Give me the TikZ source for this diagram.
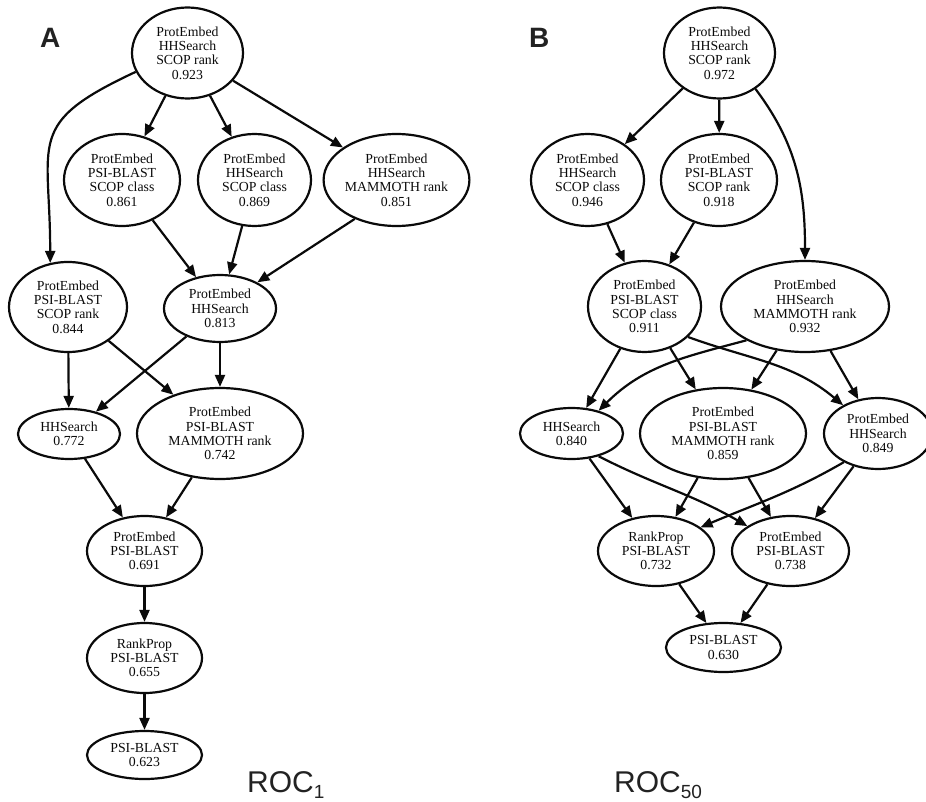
\documentclass[tikz,border=0pt]{standalone}
\usepackage{fontspec}
\usepackage{xcolor}
\usepackage{tikz}
\usetikzlibrary{
  shapes.geometric,
  arrows.meta,
  positioning
}
\newfontfamily\methodfont{Liberation Serif}
\newfontfamily\captionfont{Liberation Sans}
\definecolor{InkBlack}{RGB}{10, 10, 10}
\definecolor{LabelGray}{RGB}{34, 34, 34}
\tikzset{
    method/.style={ellipse, draw=InkBlack, line width=2.2pt, inner sep=0pt, align=center,
        text=InkBlack, font=\methodfont\fontsize{13.8}{14.3}\selectfont},
    link/.style={-{Triangle[length=12pt, width=10pt]}, draw=InkBlack, line width=2.2pt},
    panel/.style={anchor=base west, inner sep=0pt, text=LabelGray,
        font=\captionfont\bfseries\fontsize{28}{28}\selectfont},
    metric/.style={anchor=base west, inner sep=0pt, text=LabelGray,
        font=\captionfont\fontsize{30}{30}\selectfont}
}
\newcommand{\rocsub}[1]{\raisebox{-6pt}{\fontsize{19}{19}\selectfont #1}}

\begin{document}
\begin{tikzpicture}[x=1pt, y=-1pt]
    \useasboundingbox (0,0) rectangle (926,802);

    % panel A: ROC1
    \node[panel] (labA) at (40,48) {A};
    \node[method, minimum width=111pt, minimum height=91pt] (aTop) at (187.5,53) {ProtEmbed\\HHSearch\\SCOP rank\\0.923};
    \node[method, minimum width=116pt, minimum height=92pt] (aPsiClass) at (122,180) {ProtEmbed\\PSI-BLAST\\SCOP class\\0.861};
    \node[method, minimum width=113pt, minimum height=92pt] (aHhClass) at (254.5,180) {ProtEmbed\\HHSearch\\SCOP class\\0.869};
    \node[method, minimum width=137pt, minimum height=92pt] (aHhMam) at (396.5,180) {ProtEmbed\\HHSearch\\MAMMOTH rank\\0.851};
    \node[method, minimum width=118pt, minimum height=90pt] (aPsiRank) at (68,307) {ProtEmbed\\PSI-BLAST\\SCOP rank\\0.844};
    \node[method, minimum width=112pt, minimum height=67pt] (aHh) at (220,308.5) {ProtEmbed\\HHSearch\\0.813};
    \node[method, minimum width=102pt, minimum height=50pt] (aHhOnly) at (69,434) {HHSearch\\0.772};
    \node[method, minimum width=166pt, minimum height=91pt] (aPsiMam) at (220,433.5) {ProtEmbed\\PSI-BLAST\\MAMMOTH rank\\0.742};
    \node[method, minimum width=115pt, minimum height=70pt] (aPsi) at (144.5,551) {ProtEmbed\\PSI-BLAST\\0.691};
    \node[method, minimum width=115pt, minimum height=70pt] (aRankProp) at (144.5,658) {RankProp\\PSI-BLAST\\0.655};
    \node[method, minimum width=115pt, minimum height=48pt] (aBlast) at (144.5,755) {PSI-BLAST\\0.623};
    \node[metric] (rocA) at (247,792) {ROC\rocsub{1}};

    \draw[link] (aTop) -- (aPsiClass);
    \draw[link] (aTop) -- (aHhClass);
    \draw[link] (aTop) -- (aHhMam);
    \draw[link] (aTop.200) to[out=205, in=90, looseness=1.5] (aPsiRank.112);
    \draw[link] (aPsiClass) -- (aHh);
    \draw[link] (aHhClass) -- (aHh);
    \draw[link] (aHhMam.223) -- (aHh.35);
    \draw[link] (aPsiRank) -- (aHhOnly);
    \draw[link] (aPsiRank) -- (aPsiMam);
    \draw[link] (aHh) -- (aHhOnly);
    \draw[link] (aHh) -- (aPsiMam);
    \draw[link] (aHhOnly) -- (aPsi);
    \draw[link] (aPsiMam) -- (aPsi);
    \draw[link] (aPsi) -- (aRankProp);
    \draw[link] (aRankProp) -- (aBlast);

    % panel B: ROC50
    \node[panel] (labB) at (529,48) {B};
    \node[method, minimum width=111pt, minimum height=91pt] (bTop) at (719.5,53) {ProtEmbed\\HHSearch\\SCOP rank\\0.972};
    \node[method, minimum width=113pt, minimum height=92pt] (bHhClass) at (587.5,180) {ProtEmbed\\HHSearch\\SCOP class\\0.946};
    \node[method, minimum width=116pt, minimum height=92pt] (bPsiRank) at (719,180) {ProtEmbed\\PSI-BLAST\\SCOP rank\\0.918};
    \node[method, minimum width=113pt, minimum height=91pt] (bPsiClass) at (644.5,306.5) {ProtEmbed\\PSI-BLAST\\SCOP class\\0.911};
    \node[method, minimum width=168pt, minimum height=91pt] (bHhMam) at (805,306.5) {ProtEmbed\\HHSearch\\MAMMOTH rank\\0.932};
    \node[method, minimum width=103pt, minimum height=51pt] (bHhOnly) at (571.5,433.5) {HHSearch\\0.840};
    \node[method, minimum width=166pt, minimum height=91pt] (bPsiMam) at (723,433.5) {ProtEmbed\\PSI-BLAST\\MAMMOTH rank\\0.859};
    \node[method, minimum width=108pt, minimum height=71pt] (bHh) at (878,433.5) {ProtEmbed\\HHSearch\\0.849};
    \node[method, minimum width=116pt, minimum height=70pt] (bRankProp) at (656,551) {RankProp\\PSI-BLAST\\0.732};
    \node[method, minimum width=117pt, minimum height=70pt] (bPsi) at (790.5,551) {ProtEmbed\\PSI-BLAST\\0.738};
    \node[method, minimum width=115pt, minimum height=49pt] (bBlast) at (723.5,647.5) {PSI-BLAST\\0.630};
    \node[metric] (rocB) at (614,792) {ROC\rocsub{50}};

    \draw[link] (bTop) -- (bHhClass);
    \draw[link] (bTop) -- (bPsiRank);
    \draw[link] (bTop.315) to[out=-53, in=90] (bHhMam.90);
    \draw[link] (bHhClass) -- (bPsiClass);
    \draw[link] (bPsiRank) -- (bPsiClass);
    \draw[link] (bPsiClass) -- (bHhOnly);
    \draw[link] (bPsiClass) -- (bPsiMam);
    \draw[link] (bPsiClass.325) to[out=-20, in=140] (bHh.141);
    \draw[link] (bHhMam.210) to[out=195, in=45] (bHhOnly.40);
    \draw[link] (bHhMam) -- (bPsiMam);
    \draw[link] (bHhMam) -- (bHh);
    \draw[link] (bHhOnly) -- (bRankProp);
    \draw[link] (bHhOnly.320) to[out=-27, in=150] (bPsi.150);
    \draw[link] (bPsiMam) -- (bRankProp);
    \draw[link] (bPsiMam) -- (bPsi);
    \draw[link] (bHh.220) to[out=210, in=23] (bRankProp.28);
    \draw[link] (bHh) -- (bPsi);
    \draw[link] (bRankProp) -- (bBlast);
    \draw[link] (bPsi) -- (bBlast);
\end{tikzpicture}
\end{document}
